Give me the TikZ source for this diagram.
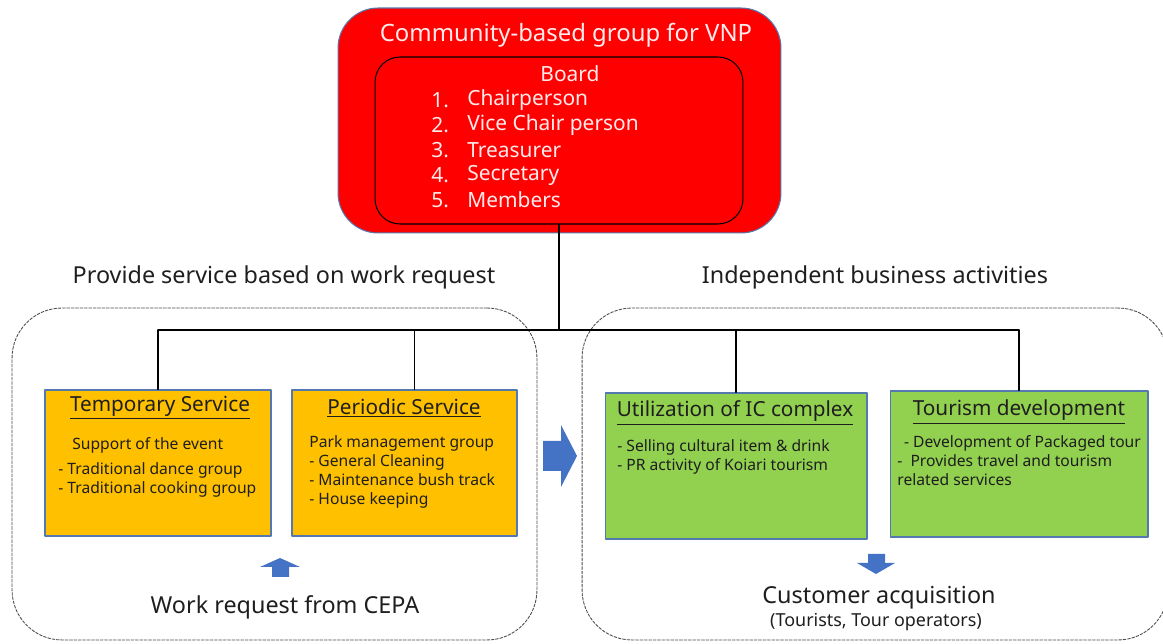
\documentclass[tikz,border=0pt]{standalone}
\usepackage{fontspec}
\setmainfont{Noto Sans}
\usetikzlibrary{positioning}

\begin{document}
\begin{tikzpicture}[x=0.02cm, y=-0.02cm, line join=round, line cap=round,
    zone/.style={draw=black!70, dash pattern=on 1.6pt off 0.9pt, rounded corners=1cm, line width=0.5pt},
    orgbox/.style={draw=edgeblue, line width=0.6pt, minimum height=2.92cm},
    boxtitle/.style={font=\fontsize{11.8}{13}\selectfont, text=textdark},
    boxbody/.style={font=\fontsize{8.9}{10.8}\selectfont, text=textdark, align=left, inner sep=0pt},
    heading/.style={font=\fontsize{13.3}{15}\selectfont, text=textdark},
    onred/.style={text=paletext, font=\fontsize{11.9}{13}\selectfont}]
        \definecolor{groupred}{RGB}{255,0,0}
        \definecolor{edgeblue}{RGB}{84,120,176}
        \definecolor{serviceorange}{RGB}{255,192,0}
        \definecolor{businessgreen}{RGB}{146,208,80}
        \definecolor{arrowblue}{RGB}{68,114,196}
        \definecolor{textdark}{RGB}{30,30,30}
        \definecolor{paletext}{RGB}{255,235,235}

        \useasboundingbox (0,0) rectangle (1163,644);

        % two working areas
        \node[zone, minimum width=10.5cm, minimum height=6.64cm] (servicezone) at (274.5,474) {};
        \node[zone, minimum width=11.72cm, minimum height=6.64cm] (businesszone) at (875,474) {};
        \node[heading] (servicehead) at (284,277) {Provide service based on work request};
        \node[heading] (businesshead) at (875,277) {Independent business activities};

        % community group and board
        \node[fill=groupred, draw=edgeblue, line width=0.6pt, rounded corners=0.8cm,
              minimum width=8.86cm, minimum height=4.5cm] (group) at (559.5,120.5) {};
        \node[onred, font=\fontsize{13.6}{15}\selectfont] (grouptitle) at (566,35) {Community-based group for VNP};
        \node[draw=black, line width=0.6pt, rounded corners=0.5cm,
              minimum width=7.36cm, minimum height=3.34cm] (board) at (559,140.5) {};
        \node[onred] (boardtitle) at (570,74) {Board};
        \foreach \i/\role in {1/Chairperson, 2/Vice Chair person, 3/Treasurer, 4/Secretary, 5/Members} {
            \node[onred, anchor=west, inner sep=0pt] (num\i) at (431,75+25*\i) {\i.};
            \node[onred, anchor=west, inner sep=0pt] (role\i) at (467,75+25*\i) {\role};
        }

        % service boxes
        \node[orgbox, fill=serviceorange, minimum width=4.52cm] (temporary) at (158,463) {};
        \node[orgbox, fill=serviceorange, minimum width=4.5cm] (periodic) at (404.5,463) {};
        \node[orgbox, fill=businessgreen, minimum width=5.24cm] (iccomplex) at (736,466) {};
        \node[orgbox, fill=businessgreen, minimum width=5.16cm] (tourism) at (1019,464) {};

        % connectors
        \coordinate (bus) at (560,330);
        \draw[line width=0.6pt] (board.south) -- (board.south |- bus);
        \draw[line width=0.6pt] (temporary.north |- bus) -- (tourism.north |- bus);
        \draw[line width=0.6pt] (temporary.north |- bus) -- (temporary.north);
        \draw[line width=0.6pt] ([xshift=0.2cm]periodic.north |- bus) -- ([xshift=0.2cm]periodic.north);
        \draw[line width=0.6pt] (iccomplex.north |- bus) -- (iccomplex.north);
        \draw[line width=0.6pt] (tourism.north |- bus) -- (tourism.north);

        % box texts
        \node[boxtitle] (temptitle) at (160,408) {\underline{Temporary Service}};
        \node[boxbody, anchor=west] (tempevent) at (72,445) {Support of the event};
        \node[boxbody, anchor=north west] (templist) at (58,462) {- Traditional dance group\\- Traditional cooking group};
        \node[boxtitle] (periodictitle) at (404,408) {\underline{Periodic Service}};
        \node[boxbody, anchor=north west] (periodiclist) at (309,435) {Park management group\\- General Cleaning\\- Maintenance bush track\\- House keeping};
        \node[boxtitle] (ictitle) at (735,413) {\underline{Utilization of IC complex}};
        \node[boxbody, anchor=north west] (iclist) at (617,439) {- Selling cultural item \& drink\\- PR activity of Koiari tourism};
        \node[boxtitle] (tourismtitle) at (1019,412) {\underline{Tourism development}};
        \node[boxbody, anchor=north west] (tourismlist) at (897,435) {\ \,- Development of Packaged tour\\-\ \ Provides travel and tourism\\related services};

        % block arrows
        \fill[arrowblue] (543,441) -- (561,441) -- (561,425) -- (577,456) -- (561,487) -- (561,471) -- (543,471) -- cycle;
        \fill[arrowblue] (272,577) -- (272,567) -- (260,567) -- (280,558) -- (300,567) -- (289,567) -- (289,577) -- cycle;
        \fill[arrowblue] (868,554) -- (885,554) -- (885,563) -- (895,563) -- (876,574) -- (857,563) -- (868,563) -- cycle;

        \node[heading] (cepa) at (285,607) {Work request from CEPA};
        \node[heading] (customers) at (879,598) {Customer acquisition};
        \node[boxbody, font=\fontsize{10.2}{12}\selectfont] (customertypes) at (876,622) {(Tourists, Tour operators)};
    \end{tikzpicture}
\end{document}
